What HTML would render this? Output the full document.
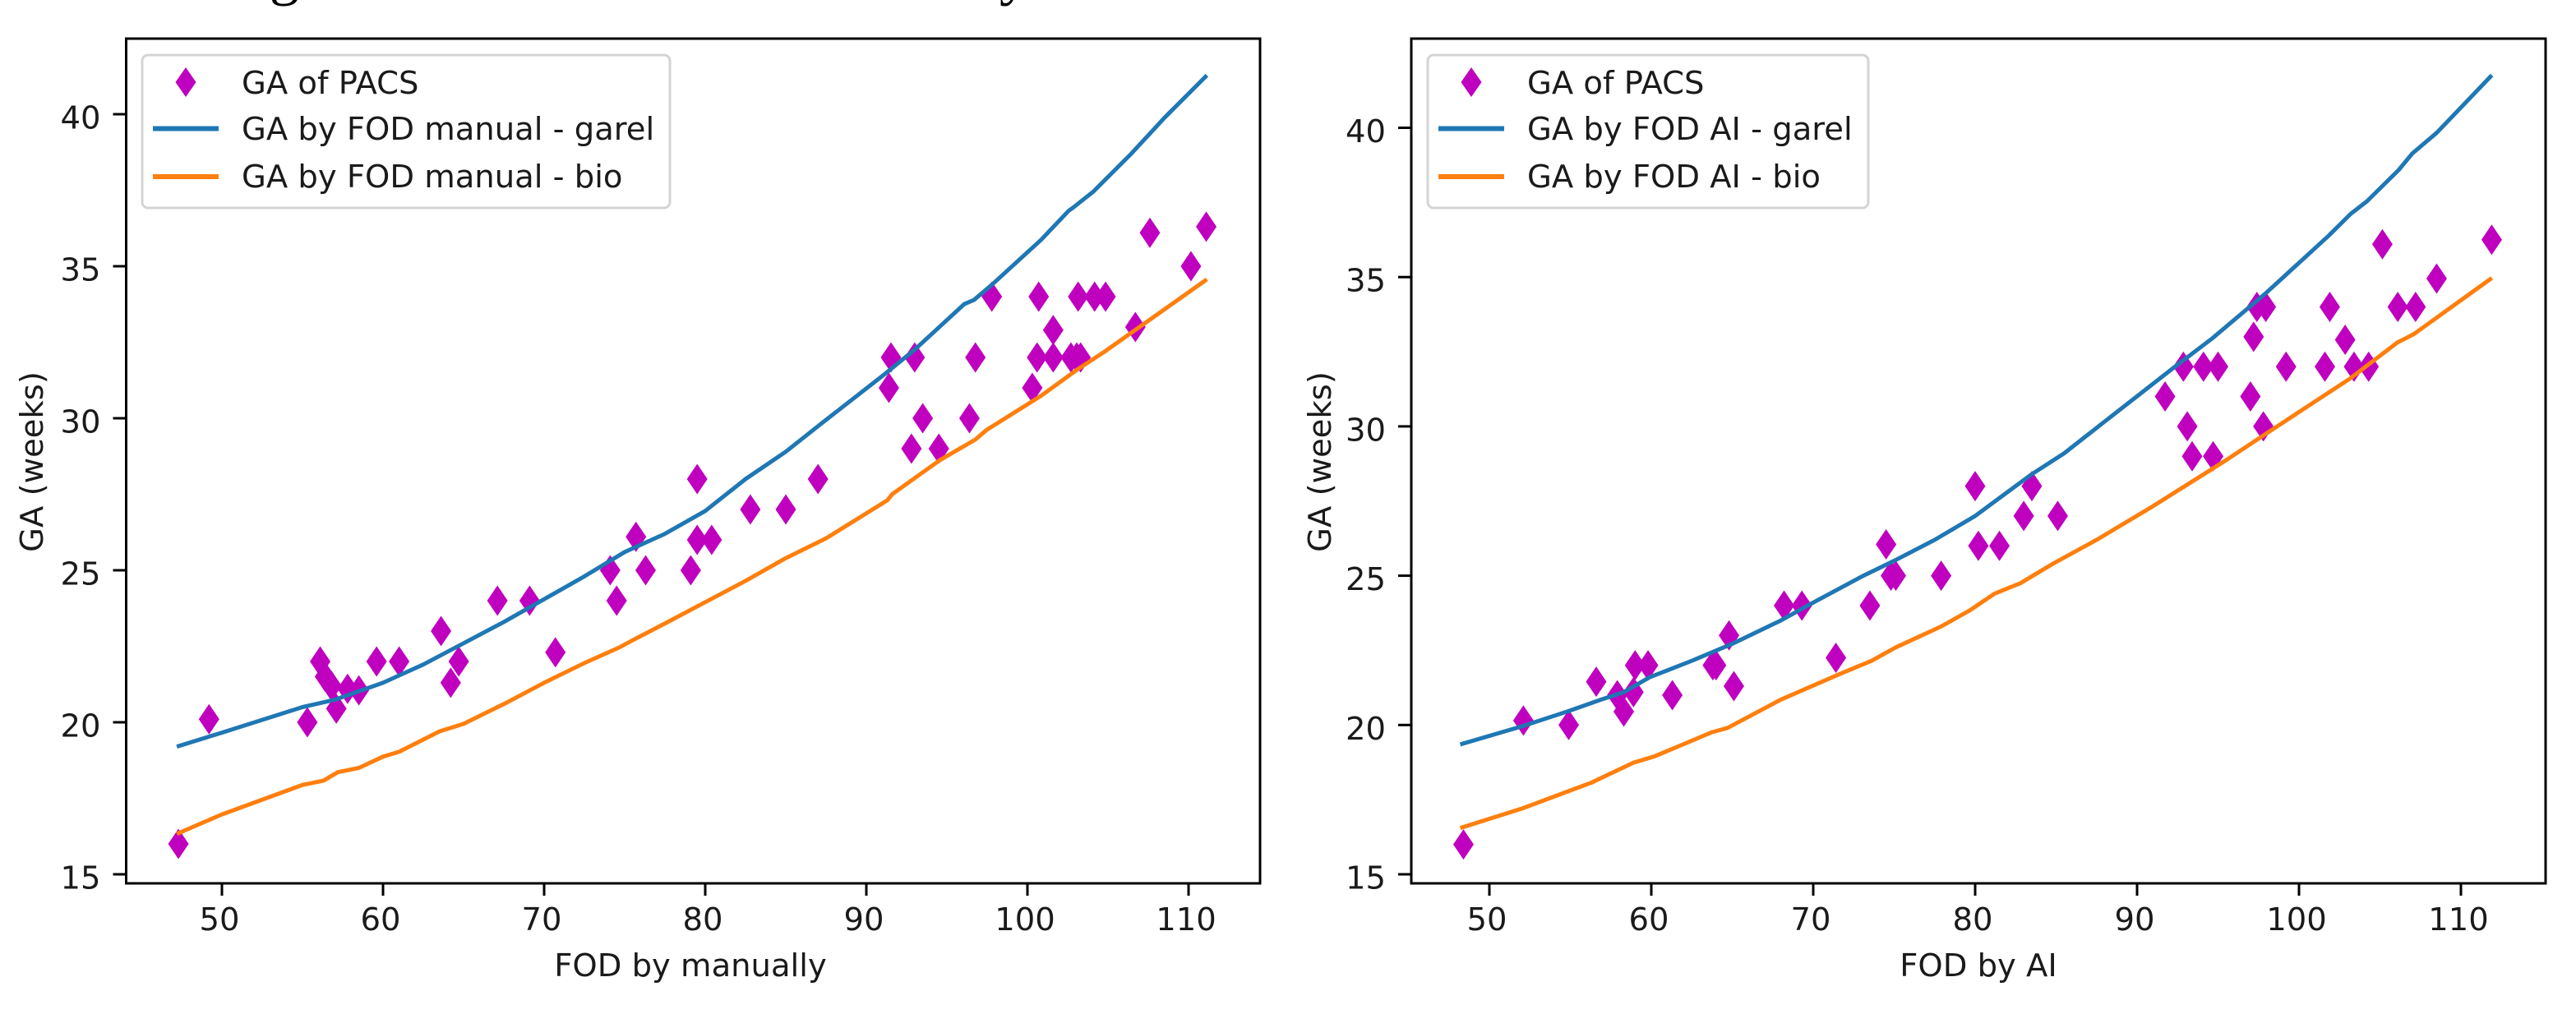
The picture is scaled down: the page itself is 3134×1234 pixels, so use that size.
<!DOCTYPE html>
<html lang="en">
<head>
<meta charset="utf-8">
<title>GA versus FOD charts</title>
<style>
html,body{margin:0;padding:0;background:#fff;}
svg{display:block;}
text{font-family:"DejaVu Sans","Liberation Sans",sans-serif;fill:#1a1a1a;}
</style>
</head>
<body>
<svg id="figure" xmlns="http://www.w3.org/2000/svg" width="3134" height="1234" viewBox="0 0 3134 1234">
  <rect x="0" y="0" width="3134" height="1234" fill="#ffffff"/>
  <text x="346" y="-8" font-size="72" text-anchor="middle" style="font-family:'Liberation Serif',serif;fill:#000">g</text>
  <text x="1216" y="-8" font-size="72" text-anchor="start" style="font-family:'Liberation Serif',serif;fill:#000">y</text>
  <g id="panel-left"></g>
  <g id="panel-right"></g>
</svg>
<script>
const xTicks = [50, 60, 70, 80, 90, 100, 110];
const yTicks = [15, 20, 25, 30, 35, 40];

const manualPacsFod = [47.3,49.2,55.3,56.1,56.4,56.8,57.1,57.8,58.5,59.6,61,63.6,64.2,64.7,67.1,69.1,70.7,74.1,74.5,75.7,76.3,79.1,79.5,80.4,79.5,82.8,85,87,91.4,91.53,93,92.8,93.5,94.5,96.4,96.77,97.79,100.3,100.6,100.7,101.6,101.6,102.7,103.06,103.3,103.15,104.17,104.85,106.7,107.6,110.15,111.1];
const manualPacsGa = [16,20.1,20,22,21.5,21.2,20.45,21.1,21.05,22,22,23,21.3,22,24,24,22.3,25,24,26.1,25,25,26,26,28,27,27,28,31,32,32,29,30,29,30,32,34,31,32,34,32.9,32,32,32,32,34,34,34,33,36.1,35,36.3];
const manualGarelFod = [47.2,50,55,57,60,62.5,65,67.5,70,72.5,75,77.5,80,82.5,85,87.24,91.16,93.03,96.09,96.68,97.79,100.85,102.55,102.89,104.08,106.46,108.5,111.14];
const manualGarelGa = [19.2,19.66,20.5,20.74,21.3,21.9,22.6,23.3,24.05,24.8,25.6,26.2,26.95,28,28.9,29.84,31.46,32.27,33.76,33.89,34.39,35.87,36.82,36.95,37.45,38.71,39.88,41.28];
const manualBioFod = [47.2,50,55,56.3,57.2,58.5,60,61,63.5,65,67.5,70,72.5,74.7,75.5,77.5,80,82.5,85,87.5,91.3,91.6,94.56,96.77,97.45,100.85,103.06,104.76,107.3,111.14];
const manualBioGa = [16.33,16.97,17.94,18.08,18.36,18.5,18.87,19.03,19.7,19.95,20.6,21.3,21.95,22.47,22.7,23.25,23.95,24.65,25.4,26.05,27.3,27.5,28.62,29.3,29.61,30.74,31.59,32.18,33.13,34.57];

const aiPacsFod = [48.4,52.1,54.9,56.6,57.9,58.3,58.9,59,59.8,61.3,63.8,64,64.8,65.1,68.2,69.3,71.4,73.5,74.5,74.8,75.1,77.9,80.2,81.5,80,83,83.5,85.1,91.73,92.86,93.1,93.4,94.1,94.7,95,97,97.2,97.4,97.95,97.8,99.2,101.6,101.9,102.85,103.4,104.3,105.15,106.1,107.2,108.5,111.9];
const aiPacsGa = [16,20.15,20,21.45,21,20.45,21.1,22,22,21,22,22,23,21.3,24,24,22.25,24,26.05,25,25,25,26,26,28,27,28,27,31,32,30,29,32,29,32,31,33,34,34,30,32,32,34,32.9,32,32,36.1,34,34,34.95,36.25];
const aiGarelFod = [48.2,52.1,54.8,56.9,58.3,59.9,62.5,65,68,70,73.1,75,77.5,80,83.5,85.5,87.97,92.2,94.65,97.95,101.84,103.2,104.2,106.16,107,108.5,111.91];
const aiGarelGa = [19.35,19.97,20.45,20.85,21.1,21.6,22.15,22.72,23.5,24.1,25,25.5,26.2,27,28.4,29.1,30.15,31.94,32.95,34.46,36.39,37.12,37.54,38.59,39.14,39.83,41.76];
const aiBioFod = [48.2,52,56.3,58.9,60.2,63.7,64.7,68,71.6,73.6,75.1,77.9,79.7,81.2,82.8,84.8,87.5,90.9,95.5,97.78,103.2,106.08,107.09,111.91];
const aiBioGa = [16.55,17.2,18.07,18.74,18.95,19.75,19.9,20.85,21.7,22.15,22.6,23.3,23.85,24.4,24.75,25.4,26.2,27.3,28.87,29.69,31.62,32.81,33.09,34.97];

const NS = 'http://www.w3.org/2000/svg';
const FONT_SIZE = 38.5;

function make(tag, parent, attrs) {
  const node = document.createElementNS(NS, tag);
  for (const key in attrs) node.setAttribute(key, attrs[key]);
  parent.appendChild(node);
  return node;
}

function label(parent, content, px, py, anchor) {
  const el = make('text', parent, {x: px, y: py, 'text-anchor': anchor, 'font-size': FONT_SIZE});
  el.textContent = content;
  return el;
}

function drawPanel(root, cfg) {
  const xAxis = v => cfg.x50 + (v - 50) * cfg.xUnit;
  const yAxis = v => 1064 - (v - 15) * cfg.yUnit;

  const markers = make('g', root, {fill: '#bf00bf'});
  
  
  cfg.pacsFod.forEach((fod, i) => {
    const cx = xAxis(fod), cy = yAxis(cfg.pacsGa[i]);
    const p = make('polygon', markers, {
      points: cx + ',' + (cy - 18.5) + ' ' + (cx + 12.5) + ',' + cy + ' ' + cx + ',' + (cy + 18.5) + ' ' + (cx - 12.5) + ',' + cy
    });
    
    
  });

  const garel = make('polyline', root, {
    fill: 'none', stroke: '#1f77b4', 'stroke-width': 5, 'stroke-linejoin': 'round',
    points: cfg.garelFod.map((v, i) => xAxis(v) + ',' + yAxis(cfg.garelGa[i])).join(' ')
  });
  
  

  const bio = make('polyline', root, {
    fill: 'none', stroke: '#ff7f0e', 'stroke-width': 5, 'stroke-linejoin': 'round',
    points: cfg.bioFod.map((v, i) => xAxis(v) + ',' + yAxis(cfg.bioGa[i])).join(' ')
  });
  
  

  const frame = make('rect', root, {
    x: cfg.left, y: 47, width: cfg.right - cfg.left, height: 1075 - 47,
    fill: 'none', stroke: '#000', 'stroke-width': 3
  });
  
  

  xTicks.forEach(t => {
    const px = xAxis(t);
    const tick = make('line', root, {x1: px, x2: px, y1: 1075, y2: 1090, stroke: '#000', 'stroke-width': 3});
    
    
    const tickLabel = label(root, String(t), px - 3, 1132, 'middle');
    
    
  });

  yTicks.forEach(t => {
    const py = yAxis(t);
    const tick = make('line', root, {x1: cfg.left - 16, x2: cfg.left, y1: py, y2: py, stroke: '#000', 'stroke-width': 3});
    
    
    const tickLabel = label(root, String(t), cfg.left - 31, py + 17.5, 'end');
    
    
  });

  const xTitle = label(root, cfg.xTitle, cfg.xTitleX, 1188, 'middle');
  
  

  const yTitle = make('text', root, {
    transform: 'translate(' + cfg.yTitleX + ' 562) rotate(-90)',
    'text-anchor': 'middle', 'font-size': FONT_SIZE
  });
  yTitle.textContent = 'GA (weeks)';
  
  

  const legend = make('g', root, {});
  
  
  const box = make('rect', legend, {
    x: cfg.legendX, y: 67, width: cfg.legendW, height: 186, rx: 7, ry: 7,
    fill: '#fff', 'fill-opacity': 0.85, stroke: '#d4d4d4', 'stroke-width': 3
  });
  
  

  const keyX = cfg.legendX + 53;
  const mark = make('polygon', legend, {
    fill: '#bf00bf',
    points: keyX + ',82 ' + (keyX + 12.5) + ',100 ' + keyX + ',118 ' + (keyX - 12.5) + ',100'
  });
  
  
  const keyBlue = make('line', legend, {x1: keyX - 40, x2: keyX + 40, y1: 156.5, y2: 156.5, stroke: '#1f77b4', 'stroke-width': 6});
  
  
  const keyOrange = make('line', legend, {x1: keyX - 40, x2: keyX + 40, y1: 215, y2: 215, stroke: '#ff7f0e', 'stroke-width': 6});
  
  

  const textX = cfg.legendX + 121;
  const entry1 = label(legend, 'GA of PACS', textX, 114, 'start');
  
  
  const entry2 = label(legend, cfg.legendGarel, textX, 170, 'start');
  
  
  const entry3 = label(legend, cfg.legendBio, textX, 228, 'start');
  
  
}

drawPanel(document.getElementById('panel-left'), {
  left: 153.5, right: 1533, x50: 270, xUnit: 19.6, yUnit: 37,
  pacsFod: manualPacsFod, pacsGa: manualPacsGa,
  garelFod: manualGarelFod, garelGa: manualGarelGa,
  bioFod: manualBioFod, bioGa: manualBioGa,
  xTitle: 'FOD by manually', xTitleX: 840, yTitleX: 52,
  legendX: 173, legendW: 642,
  legendGarel: 'GA by FOD manual - garel', legendBio: 'GA by FOD manual - bio'
});

drawPanel(document.getElementById('panel-right'), {
  left: 1717, right: 3097, x50: 1812, xUnit: 19.7, yUnit: 36.34,
  pacsFod: aiPacsFod, pacsGa: aiPacsGa,
  garelFod: aiGarelFod, garelGa: aiGarelGa,
  bioFod: aiBioFod, bioGa: aiBioGa,
  xTitle: 'FOD by AI', xTitleX: 2407, yTitleX: 1619,
  legendX: 1737, legendW: 536,
  legendGarel: 'GA by FOD AI - garel', legendBio: 'GA by FOD AI - bio'
});
</script>
</body>
</html>
